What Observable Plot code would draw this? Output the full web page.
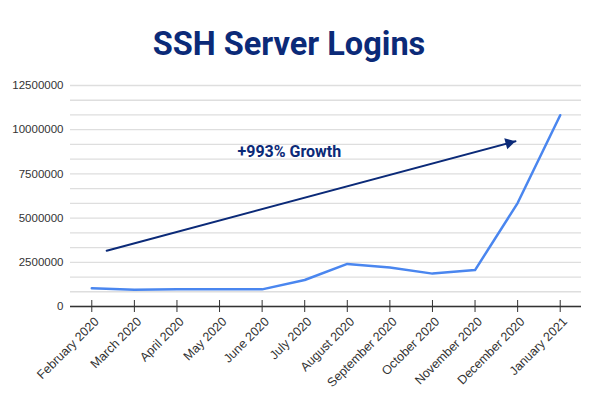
<!DOCTYPE html>
<html>
<head>
<meta charset="utf-8">
<script src="https://cdn.jsdelivr.net/npm/d3@7"></script>
<script src="https://cdn.jsdelivr.net/npm/@observablehq/plot@0.6"></script>
<style>
  html, body { margin: 0; padding: 0; background: #fff; }
  #title { height: 70px; width: 604px; box-sizing: border-box; padding-top: 26px; padding-left: 0px;
    font-family: Roboto, "Open Sans", sans-serif; font-weight: 700; font-size: 32.5px; line-height: 36px;
    color: #0b2a78; text-align: center; text-indent: -26px; }
  svg { display: block; }
</style>
</head>
<body>
<div id="title">SSH Server Logins</div>
<div id="chart"></div>
<script>
const months = ["February 2020", "March 2020", "April 2020", "May 2020", "June 2020", "July 2020",
  "August 2020", "September 2020", "October 2020", "November 2020", "December 2020", "January 2021"];
const logins = [1030000, 950000, 980000, 970000, 970000, 1500000, 2410000, 2200000, 1860000, 2060000, 5850000, 10820000];
const yTicks = [0, 2500000, 5000000, 7500000, 10000000, 12500000];
const growthLabel = "+993% Growth";
// annotation arrow in data space (x as month index)
const arrowFrom = {x: 0.35, y: 3150000};
const arrowTo = {x: 9.95, y: 9350000};
const labelAt = {x: 4.64, y: 8750000};

const data = months.map((m, i) => ({i, month: m, value: logins[i]}));
const idx = d3.range(months.length);
const gridValues = d3.range(0, 16).map(k => k * 12500000 / 15);

const navy = "#0b2a78";
const plot = Plot.plot({
  width: 604,
  height: 324,
  marginLeft: 70,
  marginRight: 23,
  marginTop: 15,
  marginBottom: 88,
  style: {fontFamily: "'Liberation Sans', Arial, sans-serif", fontSize: "11.5px", color: "#333", background: "#fff"},
  x: {type: "linear", domain: [-0.5, 11.5]},
  y: {domain: [0, 12500000]},
  marks: [
    Plot.ruleY(gridValues, {stroke: "#dedede", strokeWidth: 1.3}),
    Plot.axisY(yTicks, {tickSize: 0, tickPadding: 7, tickFormat: d => String(d), label: null, fill: "#333"}),
    Plot.ruleY([0], {stroke: "#333", strokeWidth: 1.5}),
    Plot.ruleX(idx, {x: d => d, y1: 0, y2: 0, insetTop: -6, insetBottom: -6, stroke: "#333", strokeWidth: 1}),
    Plot.axisX(idx, {tickSize: 0, tickPadding: 13, tickRotate: -45, dx: 5, tickFormat: i => months[i], label: null, fill: "#333", fontSize: 12.5}),
    Plot.line(data, {x: "i", y: "value", stroke: "#4a86ef", strokeWidth: 2.5}),
    Plot.arrow([0], {x1: () => arrowFrom.x, y1: () => arrowFrom.y, x2: () => arrowTo.x, y2: () => arrowTo.y,
      stroke: navy, strokeWidth: 2, headLength: 0}),
    Plot.dot([0], {x: () => arrowTo.x, y: () => arrowTo.y, symbol: "triangle", r: 4.3, rotate: 75,
      fill: navy, stroke: "none", dx: -6.5, dy: 1.7}),
    Plot.text([growthLabel], {x: () => labelAt.x, y: () => labelAt.y, text: d => d, fill: navy,
      fontFamily: "Roboto, sans-serif", fontWeight: 700, fontSize: 16})
  ]
});
document.getElementById("chart").appendChild(plot);
</script>
</body>
</html>
